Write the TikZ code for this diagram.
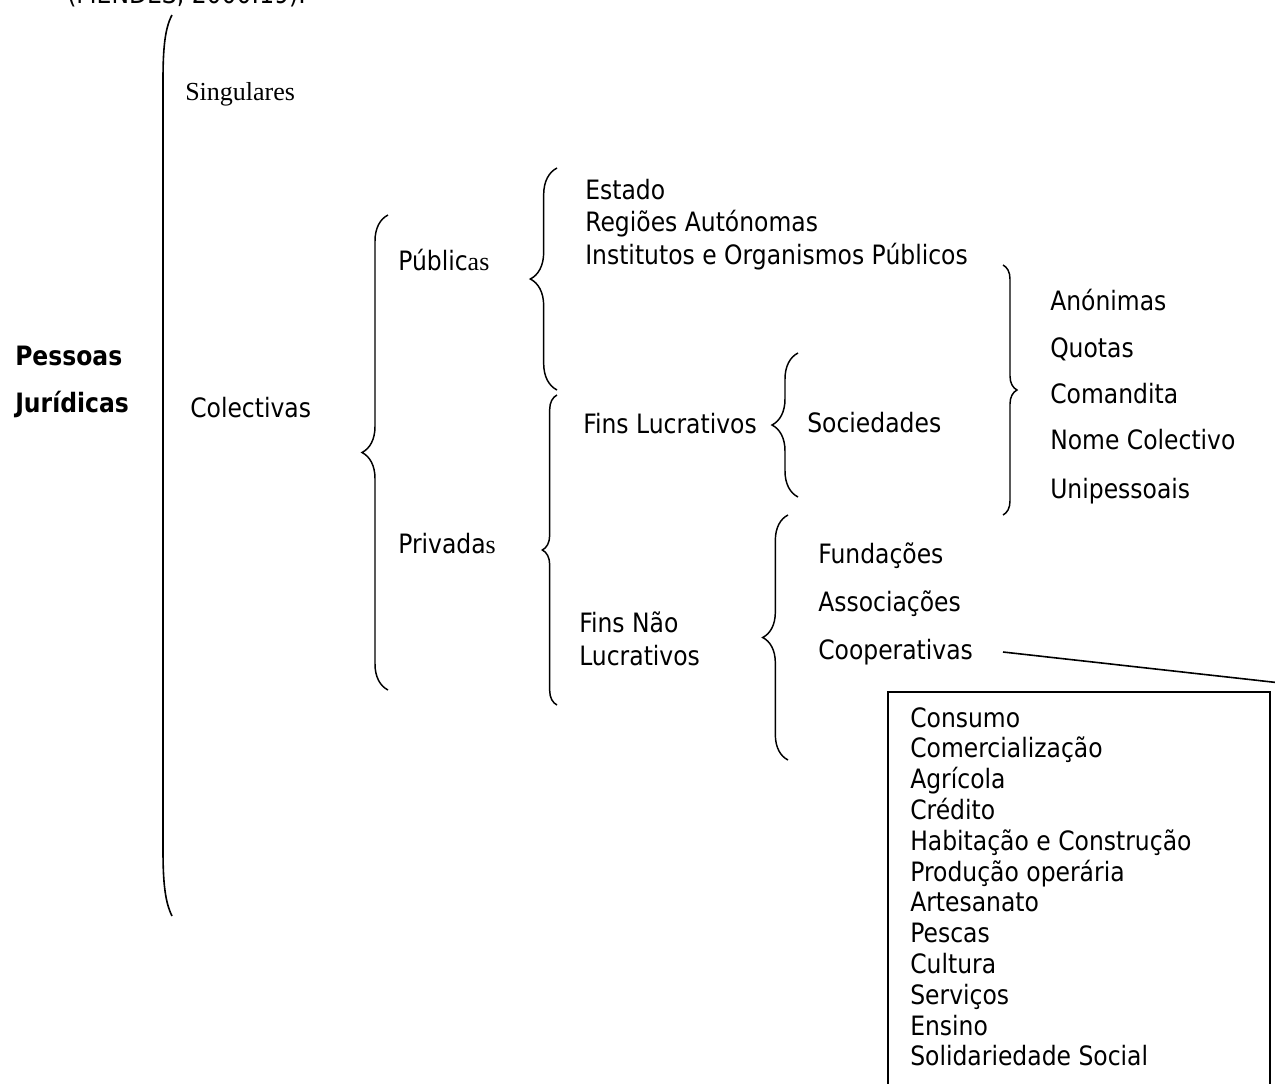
\documentclass[tikz,border=0pt]{standalone}
\usepackage{fontspec}
\setmainfont{DejaVu Sans}[FakeStretch=0.88]
\newfontfamily\tnr{Liberation Serif}
\usetikzlibrary{decorations.pathreplacing,positioning}

\begin{document}
\begin{tikzpicture}[x=0.75pt,y=-0.75pt,
    lbl/.style={anchor=base west, inner sep=0pt, font=\fontsize{20}{24}\selectfont},
    chave/.style={decorate, decoration={brace, amplitude=#1}, line width=1.1pt}]
    \clip (0,0) rectangle (1275,1083);

    % Source (cut at the top)
    \node[lbl] (fonte) at (67,3) {(MENDES, 2000:19).};

    % Main bracket
    \draw[line width=1.2pt] (172,15) .. controls (165,28) and (163,48) .. (163,80)
        -- (163,850) .. controls (163,882) and (165,902) .. (172,916);
    \node[lbl, font=\fontsize{20}{24}\bfseries] (pess) at (15,365) {Pessoas};
    \node[lbl, font=\fontsize{20}{24}\bfseries] (jur) at (15,412) {Jurídicas};
    \node[lbl] (sing) at (185,100) {\fontsize{19.5}{24}\tnr Singulares};
    \node[lbl] (col) at (190,417) {Colectivas};

    % Publicas / Privadas
    \draw[chave=19.5pt] (388,690) -- (388,215);
    \node[lbl] (pub) at (398,270) {Públic{\fontsize{19.5}{24}\tnr as}};
    \node[lbl] (priv) at (398,553) {Privada{\fontsize{19.5}{24}\tnr s}};

    % Publicas
    \draw[chave=20pt] (557,390) -- (557,168);
    \node[lbl] (estado) at (585,199) {Estado};
    \node[lbl] (regioes) at (585,231) {Regiões Autónomas};
    \node[lbl] (inst) at (585,264) {Institutos e Organismos Públicos};

    % Privadas
    \draw[chave=11pt] (557,705) -- (557,395);
    \node[lbl] (finsl) at (583,433) {Fins Lucrativos};
    \node[lbl] (finsn) at (579,632) {Fins Não};
    \node[lbl] (lucr) at (579,665) {Lucrativos};

    % Sociedades
    \draw[chave=19.5pt] (798,497) -- (798,353);
    \node[lbl] (soc) at (807,432) {Sociedades};
    \draw[chave=10.5pt] (1003,265) -- (1003,515);
    \node[lbl] (anon) at (1050,310) {Anónimas};
    \node[lbl] (quot) at (1050,357) {Quotas};
    \node[lbl] (coman) at (1050,403) {Comandita};
    \node[lbl] (nome) at (1050,449) {Nome Colectivo};
    \node[lbl] (unip) at (1050,498) {Unipessoais};

    % Fins nao lucrativos
    \draw[chave=19pt] (788,760) -- (788,515);
    \node[lbl] (fund) at (818,563) {Fundações};
    \node[lbl] (assoc) at (818,611) {Associações};
    \node[lbl] (coop) at (818,659) {Cooperativas};

    % Tipos de cooperativas
    \coordinate (ligA) at (1003,652);
    \coordinate (ligB) at (1290,684);
    \draw[line width=1.2pt] (ligA) -- (ligB);
    \draw[line width=1.3pt] (888,1100) -- (888,692) -- (1270,692) -- (1270,1100);
    \foreach \t [count=\i from 0] in {Consumo, Comercialização, Agrícola, Crédito,
        Habitação e Construção, Produção operária, Artesanato, Pescas, Cultura,
        Serviços, Ensino, Solidariedade Social} {
        \node[lbl] (tipo\i) at (910,727+30.8*\i) {\t};
    }
\end{tikzpicture}
\end{document}
